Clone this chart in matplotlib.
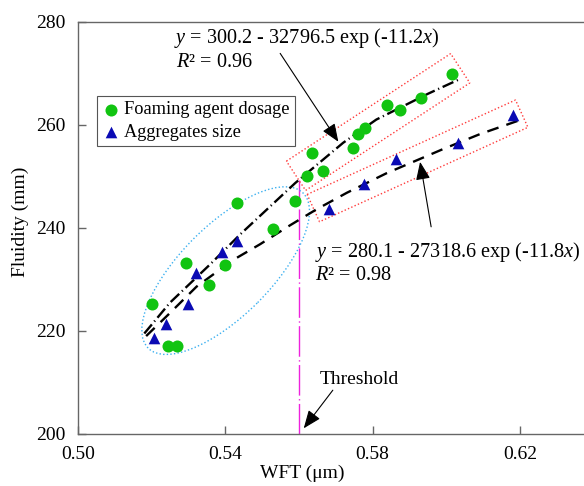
import numpy as np
import matplotlib
matplotlib.use("Agg")
import matplotlib.pyplot as plt
from matplotlib.patches import Ellipse, Polygon
from matplotlib.transforms import IdentityTransform

plt.rcParams['font.family'] = ['Liberation Serif', 'DejaVu Serif']
plt.rcParams['mathtext.fontset'] = 'custom'
plt.rcParams['mathtext.rm'] = 'Liberation Serif'
plt.rcParams['mathtext.it'] = 'Liberation Serif:italic'

# measured points
foam_wft = [0.5202, 0.5245, 0.5268, 0.5293, 0.5357, 0.5400, 0.5433, 0.5530, 0.5589, 0.5621,
            0.5636, 0.5665, 0.5746, 0.5760, 0.5780, 0.5840, 0.5875, 0.5932, 0.6017]
foam_flu = [225.2, 217.1, 217.1, 233.1, 229.0, 232.7, 244.9, 239.8, 245.2, 250.1,
            254.6, 251.0, 255.4, 258.2, 259.3, 263.8, 262.9, 265.2, 269.9]
agg_wft = [0.5205, 0.5238, 0.5298, 0.5321, 0.5390, 0.5433, 0.5681, 0.5778, 0.5864, 0.6031, 0.6180]
agg_flu = [218.6, 221.3, 225.2, 231.3, 235.4, 237.5, 243.6, 248.5, 253.4, 256.4, 261.8]

# fitted curves
fit_foam_x = [0.518, 0.525, 0.536, 0.544, 0.559, 0.572, 0.581, 0.595, 0.6035]
fit_foam_y = [219.5, 225.5, 233.0, 238.7, 248.7, 256.5, 261.0, 266.0, 268.8]
fit_agg_x = [0.5185, 0.525, 0.5322, 0.5422, 0.5494, 0.5576, 0.5648, 0.573, 0.5838, 0.5992, 0.6092, 0.6196]
fit_agg_y = [219.0, 223.5, 228.6, 233.8, 236.8, 240.5, 243.6, 246.8, 250.6, 255.3, 258.2, 260.8]

threshold = 0.56
xticks = [0.50, 0.54, 0.58, 0.62]
yticks = [200, 220, 240, 260, 280]

fig = plt.figure(figsize=(5.84, 4.86), dpi=100)
ax = fig.add_axes([0.1336, 0.1070, 0.8827, 0.8484])
ax.set_xlim(0.50, 0.64)
ax.set_ylim(200, 280)

ax.plot(fit_foam_x, fit_foam_y, color='black', lw=1.7, ls=(0, (5, 1.6, 0.5, 1.6)), zorder=2)
ax.plot(fit_agg_x, fit_agg_y, color='black', lw=1.7, ls=(0, (5, 3.5)), zorder=2)
ax.scatter(foam_wft, foam_flu, s=75, color='#11c411', marker='o', lw=0, zorder=3,
           label='Foaming agent dosage')
ax.scatter(agg_wft, agg_flu, s=70, color='#0a0ab4', marker='^', lw=0, zorder=3,
           label='Aggregates size')

ax.plot([threshold, threshold], [200, 249.3], color='#ee22dd', lw=1.0,
        ls=(0, (22, 2.5, 1, 2.5)), zorder=1)


def band(p0, p1, thick):
    # dotted box around a line between two data points, thickness in px
    a = ax.transData.transform(p0)
    b = ax.transData.transform(p1)
    d = (b - a) / np.hypot(*(b - a))
    n = np.array([-d[1], d[0]]) * thick / 2
    pts = [a + n, b + n, b - n, a - n]
    ax.add_patch(Polygon(pts, closed=True, fill=False, ec='#ff3b3b', lw=1.0, ls=(0, (1, 1.6)),
                         transform=IdentityTransform(), clip_on=False, zorder=1))


band((0.5592, 250.1), (0.6038, 270.96), 35)
band((0.5639, 243.83), (0.6205, 262.15), 30)

c = ax.transData.transform((0.5401, 231.7))
ax.add_patch(Ellipse(c, 2 * 109.6, 2 * 45.2, angle=45, fill=False, ec='#3bb0f0', lw=1.0,
                     ls=(0, (1, 1.6)), transform=IdentityTransform(), clip_on=False, zorder=1))

fs = 14
efs = 14.6
ax.text(0.5261, 276.8, r'$y$ = 300.2 - 32796.5 exp (-11.2$x$)', fontsize=efs, va='center')
ax.text(0.5266, 272.0, r'$R$² = 0.96', fontsize=efs, va='center')
ax.text(0.5644, 235.4, r'$y$ = 280.1 - 27318.6 exp (-11.8$x$)', fontsize=efs, va='center')
ax.text(0.5644, 230.8, r'$R$² = 0.98', fontsize=efs, va='center')
ax.text(0.5763, 210.5, 'Threshold', fontsize=fs, va='center', ha='center')

arrow = dict(arrowstyle='-|>,head_length=0.55,head_width=0.22', mutation_scale=20,
             lw=0.8, color='black', shrinkA=0, shrinkB=0)
ax.annotate('', xy=(0.5707, 256.7), xytext=(0.5549, 273.85), arrowprops=arrow)
ax.annotate('', xy=(0.5929, 252.8), xytext=(0.5959, 240.2), arrowprops=arrow)
ax.annotate('', xy=(0.5613, 201.1), xytext=(0.5692, 208.5), arrowprops=arrow)

leg = ax.legend(loc='upper left', bbox_to_anchor=(97 / 584, 1 - 96 / 486),
                bbox_transform=fig.transFigure, borderaxespad=0, fontsize=13.2,
                fancybox=False, edgecolor='#555555', framealpha=1,
                handletextpad=0.25, handlelength=0.9, borderpad=0.3, labelspacing=0.3)
leg.get_frame().set_linewidth(0.8)

ax.set_xticks(xticks)
ax.set_xticklabels([f'{v:.2f}' for v in xticks])
ax.set_yticks(yticks)
ax.tick_params(direction='in', length=6, width=1, color='#666666', labelsize=fs)
ax.tick_params(axis='y', pad=9)
ax.tick_params(axis='x', pad=9)
for s in ['left', 'bottom', 'top']:
    ax.spines[s].set_color('#666666')
    ax.spines[s].set_linewidth(1.0)
ax.spines['right'].set_visible(False)

ax.set_xlabel('WFT (μm)', fontsize=fs)
ax.set_ylabel('Fluidity (mm)', fontsize=fs)
ax.xaxis.set_label_coords((302 - 78) / 515.5, -31 / 412.3)
ax.yaxis.set_label_coords(-49 / 515.5, (434 - 222) / 412.3)

fig.savefig('out.png', dpi=100)
